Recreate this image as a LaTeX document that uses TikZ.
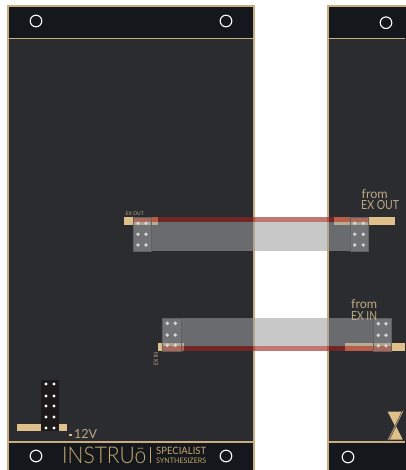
\documentclass[tikz,border=0pt]{standalone}
\usepackage{fontspec}
\setmainfont{Lato}
\newfontfamily\thinfont{Lato Light}
\definecolor{panel}{HTML}{2B2C30}
\definecolor{strip}{HTML}{14171B}
\definecolor{edge}{HTML}{C9AD80}
\definecolor{goldbar}{HTML}{DFC08A}
\definecolor{txt}{HTML}{BDA983}
\definecolor{logo}{HTML}{C6A771}
\definecolor{ribbon}{HTML}{9D9D9F}
\definecolor{redband}{HTML}{9D2320}
\definecolor{hdredge}{HTML}{5F6064}
\definecolor{pindot}{HTML}{D4D4DA}
\definecolor{blockc}{HTML}{1D191A}
\tikzset{
  x=1pt,y=-1pt,
  panelbox/.style={fill=panel,draw=edge,line width=2pt},
  stripbox/.style={fill=strip},
  divider/.style={draw=edge,line width=1.2pt},
  hole/.style={draw=white,line width=1.1pt,fill=none},
  bar/.style={fill=goldbar},
  ribbonbox/.style={fill=ribbon,fill opacity=.56},
  redbox/.style={fill=redband,fill opacity=.62},
  hdr/.style={fill=gray!90!white,fill opacity=.25,draw=hdredge,line width=.6pt},
  pin/.style={fill=pindot},
  wpin/.style={fill=white},
  lab/.style={text=txt,inner sep=0pt,anchor=west},
  logotxt/.style={text=logo,inner sep=0pt,anchor=west},
}
\begin{document}
\begin{tikzpicture}
\useasboundingbox (0,0) rectangle (405,470);
\fill[white] (0,0) rectangle (405,470);
% panels
\draw[panelbox] (7.5,6.5) rectangle (253.8,472);
\draw[panelbox] (328.3,6.5) rectangle (408,472);
\fill[stripbox] (8.5,7.5) rectangle (252.8,38);
\fill[stripbox] (8.5,442) rectangle (252.8,471);
\fill[stripbox] (329.3,7.5) rectangle (406,38);
\fill[stripbox] (329.3,442) rectangle (406,471);
\draw[divider] (8,38.2) -- (253.5,38.2);
\draw[divider] (8,442) -- (253.5,442);
\draw[divider] (329,38.2) -- (405,38.2);
\draw[divider] (329,442) -- (405,442);
% holes
\foreach \p/\q in {36/21,226/21,386/22.7,36/456,226/456,348/457}
  \draw[hole] (\p,\q) circle[radius=5.8];
% gold bars
\fill[bar] (124,217) rectangle (158,224.7);
\fill[bar] (334,217) rectangle (395,224.7);
\fill[bar] (158,343) rectangle (184,351);
\fill[bar] (345,343) rectangle (405,351);
% red bands
\fill[redbox] (133,217) rectangle (368,222);
\fill[redbox] (162,346) rectangle (391,351);
% ribbons
\fill[ribbonbox] (133,222) rectangle (368,251);
\fill[ribbonbox] (162,318) rectangle (391,346);
% headers
\draw[hdr] (133,217) rectangle (151,251);
\draw[hdr] (350,217) rectangle (368,251);
\draw[hdr] (162,318) rectangle (181,351);
\draw[hdr] (373,318) rectangle (391,351);
% header pins
\foreach \y in {223.3,234.3,245} {
  \foreach \x in {138,146,354.7,363.3}
    \fill[pin] (\x,\y) circle[radius=1.9];
}
\foreach \y in {323.3,335,345.2} {
  \foreach \x in {167.3,175.3}
    \fill[pin] (\x,\y) circle[radius=1.9];
}
\foreach \y in {323.7,335.3,345.7} {
  \foreach \x in {378.3,386}
    \fill[pin] (\x,\y) circle[radius=1.9];
}
% labels
\node[lab,font=\fontsize{5}{6}\selectfont] (exoutsmall) at (125.5,213.5) {EX OUT};
\node[lab,font=\fontsize{6}{7}\selectfont,rotate=90,anchor=west] (exinsmall) at (156,365.5) {\scalebox{.85}[1]{EX IN}};
\node[lab,font=\fontsize{12.5}{14}\selectfont] (fromout) at (361.5,193.5) {from};
\node[lab,font=\fontsize{12.5}{14}\selectfont] (exout) at (361,205) {\scalebox{.84}[1]{EX OUT}};
\node[lab,font=\fontsize{12.5}{14}\selectfont] (fromin) at (351,303.5) {from};
\node[lab,font=\fontsize{12.5}{14}\selectfont] (exin) at (351,316) {\scalebox{.82}[1]{EX IN}};
% power connector
\fill[bar] (17,424) rectangle (67,431);
\fill[blockc] (41,380) rectangle (59,431);
\foreach \y in {384,396,406,417,428} {
  \foreach \x in {46,54}
    \fill[wpin] (\x,\y) circle[radius=1.7];
}
\fill[goldbar] (69,434.4) rectangle (72,436);
\node[lab,font=\fontsize{12.5}{14}\selectfont] (twelve) at (74,434) {12V};
% logo
\node[logotxt] (brand) at (62,455) {\resizebox{84pt}{16.5pt}{\fontsize{20}{22}\thinfont\selectfont INSTRUō}};
\fill[logo] (149.6,447) rectangle (150.8,463);
\node[logotxt] (spec) at (156,451) {\resizebox{50pt}{7.3pt}{\fontsize{10}{12}\selectfont SPECIALIST}};
\node[logotxt] (synth) at (156,460.3) {\resizebox{50pt}{5.5pt}{\fontsize{8}{10}\selectfont SYNTHESIZERS}};
% hourglass
\fill[goldbar] (387.7,411.7) -- (402.7,411.7) -- (395.2,426.5) -- cycle;
\fill[goldbar] (387.7,439.5) -- (402.7,439.5) -- (395.2,424.5) -- cycle;
\draw[panel,line width=1.6pt] (388.5,440) -- (403,411);
\draw[txt,line width=.7pt] (388.5,440) -- (403,411);
\end{tikzpicture}
\end{document}
